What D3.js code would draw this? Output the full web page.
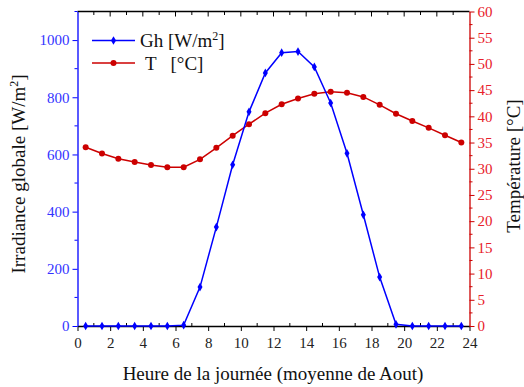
<!DOCTYPE html>
<html><head><meta charset="utf-8">
<script src="https://cdn.jsdelivr.net/npm/d3@7"></script>
<style>body{margin:0;background:#fff}svg{display:block}</style>
</head><body>
<svg id="c" width="524" height="387"></svg>
<script>
const hours = [0.5,1.5,2.5,3.5,4.5,5.5,6.5,7.5,8.5,9.5,10.5,11.5,12.5,13.5,14.5,15.5,16.5,17.5,18.5,19.5,20.5,21.5,22.5,23.5];
const ghValues = [0,0,0,0,0,0,3,136,346,564,749,885,956,960,906,780,604,389,171,6,0,0,0,0];
const tValues = [34.1,32.9,31.9,31.3,30.7,30.3,30.3,31.8,34.0,36.3,38.5,40.6,42.3,43.4,44.3,44.7,44.5,43.7,42.2,40.5,39.1,37.8,36.4,35.0];
const xTicks = [0,2,4,6,8,10,12,14,16,18,20,22,24];
const ghTicks = [0,200,400,600,800,1000];
const tTicks = [0,5,10,15,20,25,30,35,40,45,50,55,60];

const FF = "Liberation Serif, Times New Roman, serif";
const svg = d3.select("#c").attr("font-family",FF);
const L=77.5, R=469.5, T=11.5, B=326;
const x = d3.scaleLinear().domain([0,24]).range([L,R]);
const yG = d3.scaleLinear().domain([0,1100]).range([B,T]);
const yT = d3.scaleLinear().domain([0,60]).range([B,T]);
const blue="#0000ff", red="#cc0000", blueTxt="#3333ff", redTxt="#e8202a";

// bottom axis: major outward, minor inward
const gb = svg.append("g").attr("transform",`translate(0,${B})`);
gb.call(d3.axisBottom(x).tickValues(xTicks).tickSize(5).tickSizeOuter(0).tickFormat(d3.format("d")));
gb.attr("font-family",FF);
gb.selectAll(".tick line").attr("stroke","#000");
gb.selectAll(".tick text").attr("font-family",FF).attr("font-size",15).attr("fill","#222").attr("dy","0.9em");
gb.select(".domain").attr("stroke","#000").attr("stroke-width",1.3);
const minorX = d3.range(1,24,2);
gb.selectAll(".mx").data(minorX).enter().append("line").attr("x1",d=>x(d)).attr("x2",d=>x(d)).attr("y1",0).attr("y2",-3).attr("stroke","#000");

// top axis: inward ticks
const gt = svg.append("g").attr("transform",`translate(0,${T})`);
gt.append("line").attr("x1",L).attr("x2",R).attr("stroke","#000").attr("stroke-width",1.3);
gt.selectAll(".tx").data(d3.range(1,24)).enter().append("line").attr("x1",d=>x(d)).attr("x2",d=>x(d)).attr("y1",0).attr("y2",d=>d%2===0?5:3.5).attr("stroke","#000");

// left axis
const gl = svg.append("g").attr("transform",`translate(${L},0)`);
gl.call(d3.axisLeft(yG).tickValues(ghTicks).tickSize(5).tickSizeOuter(0).tickFormat(d3.format("d")));
gl.attr("font-family",FF);
gl.select(".domain").attr("stroke",blue).attr("stroke-width",1.3);
gl.selectAll(".tick line").attr("stroke",blue);
gl.selectAll(".tick text").attr("font-family",FF).attr("font-size",15).attr("fill",blueTxt).attr("x",-8);
gl.selectAll(".my").data([100,300,500,700,900,1100]).enter().append("line").attr("y1",d=>yG(d)).attr("y2",d=>yG(d)).attr("x1",0).attr("x2",-3).attr("stroke",blue);

// right axis
const gr = svg.append("g").attr("transform",`translate(${R},0)`);
gr.call(d3.axisRight(yT).tickValues(tTicks).tickSize(5).tickSizeOuter(0));
gr.attr("font-family",FF);
gr.select(".domain").attr("stroke",red).attr("stroke-width",1.3);
gr.selectAll(".tick line").attr("stroke",red);
gr.selectAll(".tick text").attr("font-family",FF).attr("font-size",15).attr("fill",redTxt).attr("x",8);
gr.selectAll(".mt").data(d3.range(2.5,60,5)).enter().append("line").attr("y1",d=>yT(d)).attr("y2",d=>yT(d)).attr("x1",0).attr("x2",3).attr("stroke",red);

// T series
const lineT = d3.line().x((d,i)=>x(hours[i])).y(d=>yT(d));
svg.append("path").datum(tValues).attr("d",lineT).attr("fill","none").attr("stroke",red).attr("stroke-width",1.5);
svg.selectAll(".pt").data(tValues).enter().append("circle").attr("cx",(d,i)=>x(hours[i])).attr("cy",d=>yT(d)).attr("r",3).attr("fill",red);

// Gh series
const lineG = d3.line().x((d,i)=>x(hours[i])).y(d=>yG(d));
svg.append("path").datum(ghValues).attr("d",lineG).attr("fill","none").attr("stroke",blue).attr("stroke-width",1.5);
const dia = d3.symbol().type(d3.symbolDiamond).size(22);
svg.selectAll(".pg").data(ghValues).enter().append("path").attr("d",dia).attr("transform",(d,i)=>`translate(${x(hours[i])},${yG(d)})`).attr("fill",blue);

// legend
const lg = svg.append("g");
lg.append("line").attr("x1",92).attr("x2",135).attr("y1",40.5).attr("y2",40.5).attr("stroke",blue).attr("stroke-width",1.5);
lg.append("path").attr("d",dia).attr("transform","translate(113.5,40.5)").attr("fill",blue);
const t1 = lg.append("text").attr("x",140).attr("y",46.5).attr("font-size",19).attr("fill","#111");
t1.append("tspan").text("Gh [W/m");
t1.append("tspan").attr("font-size",12).attr("dy",-7).text("2");
t1.append("tspan").attr("dy",7).text("]");
lg.append("line").attr("x1",92).attr("x2",135).attr("y1",63).attr("y2",63).attr("stroke",red).attr("stroke-width",1.5);
lg.append("circle").attr("cx",113.5).attr("cy",63).attr("r",3).attr("fill",red);
lg.append("text").attr("x",145).attr("y",69.5).attr("font-size",19).attr("fill","#111").style("white-space","pre").text("T   [°C]");

// axis titles
const yl = svg.append("text").attr("transform","translate(25,174) rotate(-90)").attr("text-anchor","middle").attr("font-size",19).attr("fill","#111");
yl.append("tspan").text("Irradiance globale [W/m");
yl.append("tspan").attr("font-size",12).attr("dy",-7).text("2");
yl.append("tspan").attr("dy",7).text("]");
svg.append("text").attr("transform","translate(520,166) rotate(-90)").attr("text-anchor","middle").attr("font-size",19).attr("fill","#111").text("Température [°C]");
svg.append("text").attr("x",273).attr("y",380).attr("text-anchor","middle").attr("font-size",19).attr("fill","#111").text("Heure de la journée (moyenne de Aout)");
</script>
</body></html>
